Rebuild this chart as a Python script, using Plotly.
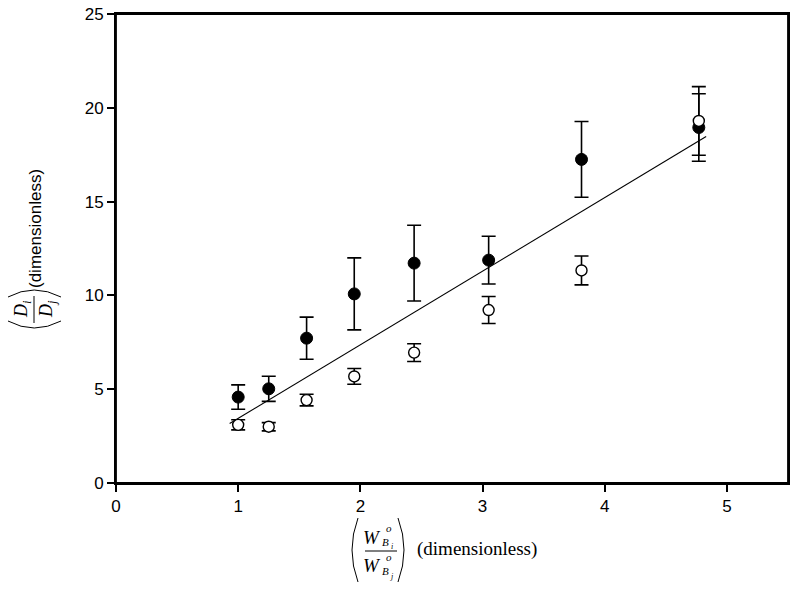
import plotly.graph_objects as go

# ratio of weights (x) and measured ratio (y) for the two series
x_vals = [1.0, 1.25, 1.56, 1.95, 2.44, 3.05, 3.81, 4.77]
filled_y = [4.58, 5.02, 7.72, 10.08, 11.72, 11.88, 17.25, 18.95]
filled_err = [0.65, 0.67, 1.12, 1.92, 2.02, 1.27, 2.02, 1.8]
open_y = [3.1, 3.0, 4.42, 5.68, 6.95, 9.22, 11.33, 19.3]
open_err = [0.27, 0.22, 0.31, 0.42, 0.47, 0.72, 0.77, 1.83]

# regression line end points
fit_x = [0.93, 4.83]
fit_y = [3.17, 18.47]

x_ticks = [0, 1, 2, 3, 4, 5]
y_ticks = [0, 5, 10, 15, 20, 25]

# page body adds an 8px margin, so the figure is drawn 8px in from the corner
OFF = 8
W, H = 800 - 2 * OFF, 593 - 2 * OFF
L, R, T, B = 116, 788, 14, 483  # plot box in window pixels


def px(X):
    return (X - L) / (R - L)


def py(Y):
    return (B - Y) / (B - T)


fig = go.Figure()

fig.add_trace(go.Scatter(x=fit_x, y=fit_y, mode="lines",
                         line=dict(color="black", width=1.1), hoverinfo="skip"))

fig.add_trace(go.Scatter(
    x=x_vals, y=filled_y, mode="markers",
    marker=dict(color="black", size=12, line=dict(color="black", width=1)),
    error_y=dict(type="data", array=filled_err, color="black", thickness=1.6, width=7),
))
fig.add_trace(go.Scatter(
    x=x_vals, y=open_y, mode="markers",
    marker=dict(color="white", size=11, line=dict(color="black", width=1.4)),
    error_y=dict(type="data", array=open_err, color="black", thickness=1.6, width=7),
))

serif = "Liberation Serif"
sans = "Liberation Sans"
ann = []
shapes = []


def txt(X, Y, s, size, family=serif, angle=0):
    ann.append(dict(x=px(X), y=py(Y), xref="paper", yref="paper", text=s,
                    showarrow=False, font=dict(family=family, size=size, color="black"),
                    textangle=angle, xanchor="center", yanchor="middle"))


def curve(x0, y0, cx, cy, x1, y1):
    # thin bracket stroke, pixel points converted to paper units
    shapes.append(dict(type="path", xref="paper", yref="paper",
                       path=f"M {px(x0)},{py(y0)} Q {px(cx)},{py(cy)} {px(x1)},{py(y1)}",
                       line=dict(color="black", width=1)))


# x axis label: (W°Bi / W°Bj) (dimensionless)
curve(358, 518, 346, 550, 358, 582)
curve(398, 518, 410, 550, 398, 582)
txt(372, 537, "<i>W</i>", 19)
txt(389, 528, "<i>o</i>", 11)
txt(385, 542, "<i>B</i>", 11)
txt(392, 546, "<i>i</i>", 8)
txt(372, 565, "<i>W</i>", 19)
txt(389, 557, "<i>o</i>", 11)
txt(385, 571, "<i>B</i>", 11)
txt(392, 576, "<i>j</i>", 8)
shapes.append(dict(type="line", xref="paper", yref="paper",
                   x0=px(365), x1=px(397), y0=py(551), y1=py(551),
                   line=dict(color="black", width=1)))
txt(477, 549, "(dimensionless)", 19)

# y axis label: (Di / Dj) (dimensionless)
curve(8, 321, 34, 335, 61, 321)
curve(8, 297, 34, 283, 61, 297)
txt(22, 309, "<i>D<sub>i</sub></i>", 18, angle=-90)
txt(47, 309, "<i>D<sub>j</sub></i>", 18, angle=-90)
shapes.append(dict(type="line", xref="paper", yref="paper",
                   x0=px(34), x1=px(34), y0=py(296), y1=py(323),
                   line=dict(color="black", width=1)))
txt(35, 229, "(dimensionless)", 17, family=sans, angle=-90)

# plot frame (the top edge sits very close to the figure edge)
shapes.append(dict(type="rect", xref="paper", yref="paper", x0=0, x1=1, y0=0, y1=1,
                   line=dict(color="black", width=1.8), layer="above"))

fig.update_layout(
    width=W, height=H,
    margin=dict(l=L - OFF, r=W + OFF - R, t=T - OFF, b=H + OFF - B),
    paper_bgcolor="white", plot_bgcolor="white",
    showlegend=False,
    font=dict(family=sans, size=17, color="black"),
    annotations=ann, shapes=shapes,
)
axis_style = dict(ticks="outside", ticklen=7, tickwidth=1.5, tickcolor="black",
                  showline=True, linecolor="black", linewidth=1.8, mirror=True,
                  showgrid=False, zeroline=False, automargin=False,
                  ticklabeloverflow="allow",
                  tickfont=dict(family=sans, size=17))
fig.update_xaxes(range=[0, 5.5], tickvals=x_ticks, **axis_style)
fig.update_yaxes(range=[0, 25], tickvals=y_ticks, **axis_style)

fig.write_html("out.html")
